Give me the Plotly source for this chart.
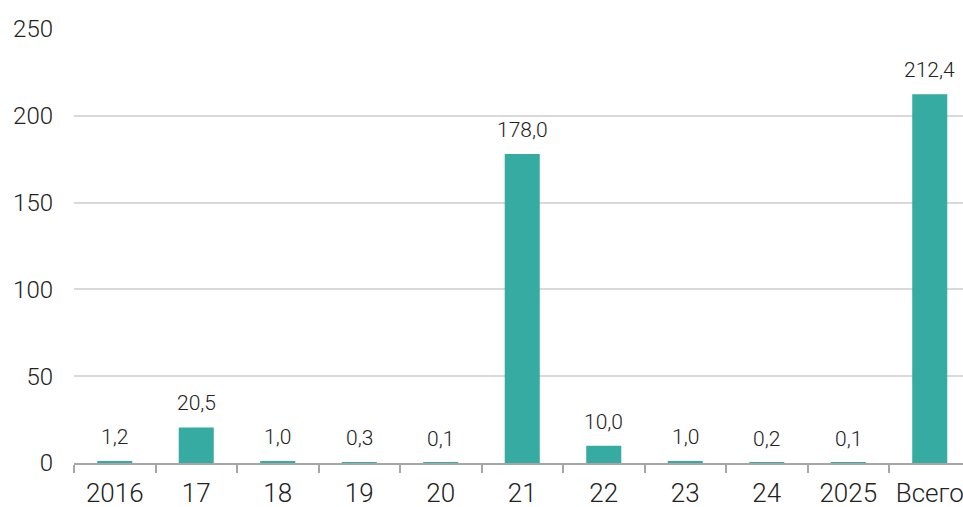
import plotly.graph_objects as go

categories = ["2016", "17", "18", "19", "20", "21", "22", "23", "24", "2025", "Всего"]
values = [1.2, 20.5, 1.0, 0.3, 0.1, 178.0, 10.0, 1.0, 0.2, 0.1, 212.4]
y_ticks = [0, 50, 100, 150, 200, 250]

BAR_COLOR = "#35aba1"
FONT = "Roboto"

fig = go.Figure()
fig.add_trace(go.Bar(
    x=categories, y=values, marker=dict(color=BAR_COLOR, line=dict(width=0)),
    width=0.43, hoverinfo="skip",
))

for i, v in enumerate(values):
    fig.add_annotation(
        x=i, y=v, text=f"{v:.1f}".replace(".", ","), showarrow=False,
        yanchor="bottom", yshift=10,
        font=dict(family=FONT, size=21, color="#222222", weight=300),
    )

fig.update_layout(
    width=963, height=507,
    margin=dict(l=74, r=0, t=29, b=44),
    paper_bgcolor="white", plot_bgcolor="white",
    showlegend=False,
    font=dict(family=FONT, size=24, color="#222222", weight=300),
    xaxis=dict(
        type="category", range=[-0.5, 10.408], automargin=False,
        showline=True, linecolor="#a6a6a6", linewidth=2,
        ticks="outside", tickson="boundaries", ticklen=8, tickwidth=2, tickcolor="#a6a6a6",
        showgrid=False, ticklabelstandoff=6,
        tickfont=dict(family=FONT, size=26, color="#222222", weight=300),
    ),
    yaxis=dict(
        range=[0, 250], tickvals=y_ticks, showgrid=True, gridcolor="#d9d9d9", gridwidth=2,
        zeroline=False, showline=False, ticks="", ticklabelstandoff=20, automargin=False,
        tickfont=dict(family=FONT, size=24, color="#222222", weight=300),
    ),
)

fig.write_html("out.html")
